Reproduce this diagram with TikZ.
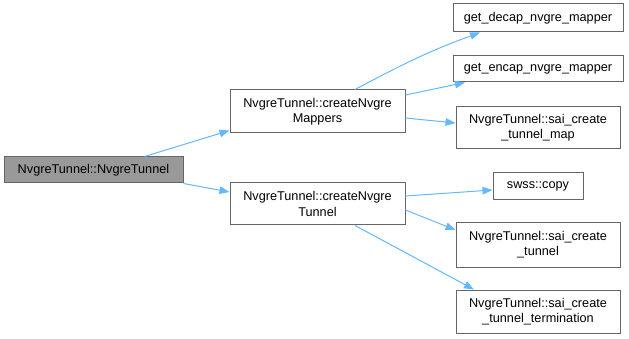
\documentclass[tikz,border=0pt]{standalone}
\usepackage{fontspec}
\setmainfont{Liberation Sans}
\usetikzlibrary{arrows.meta}
\definecolor{edgeblue}{RGB}{99,184,255}
\definecolor{boxgray}{RGB}{102,102,102}
\definecolor{rootfill}{RGB}{153,153,153}
\tikzset{
  box/.style={draw=boxgray,line width=1pt,fill=white,inner sep=0pt,align=center,
    font=\fontsize{12.7}{15.3}\selectfont},
  edge/.style={draw=edgeblue,line width=1pt,-{Triangle[length=10pt,width=7.5pt]}}
}

\begin{document}
\begin{tikzpicture}[x=1pt,y=1pt]
	\useasboundingbox (0,0) rectangle (629,-339);
	\node [box,fill=rootfill,minimum width=179pt,minimum height=26pt] (root) at (93.5,-170) {NvgreTunnel::NvgreTunnel};
	\node [box,minimum width=175pt,minimum height=43pt] (mappers) at (317.5,-111.5) {NvgreTunnel::createNvgre\\Mappers};
	\node [box,minimum width=175pt,minimum height=42pt] (tunnel) at (317.5,-204) {NvgreTunnel::createNvgre\\Tunnel};
	\node [box,minimum width=170pt,minimum height=28pt] (decap) at (538,-18) {get\_decap\_nvgre\_mapper};
	\node [box,minimum width=170pt,minimum height=26pt] (encap) at (538,-69) {get\_encap\_nvgre\_mapper};
	\node [box,minimum width=164pt,minimum height=42pt] (tunmap) at (538,-128) {NvgreTunnel::sai\_create\\\_tunnel\_map};
	\node [box,minimum width=90pt,minimum height=27pt] (copy) at (538,-186.5) {swss::copy};
	\node [box,minimum width=164pt,minimum height=44pt] (saitun) at (538,-245) {NvgreTunnel::sai\_create\\\_tunnel};
	\node [box,minimum width=164pt,minimum height=43pt] (term) at (538,-311.5) {NvgreTunnel::sai\_create\\\_tunnel\_termination};
	% calls out of the constructor
	\draw [edge] ([xshift=51pt]root.north) -- ([yshift=3pt]mappers.south west);
	\draw [edge] (root.south east) -- ([yshift=12pt]tunnel.west);
	% createNvgreMappers
	\draw [edge] ([xshift=37.5pt]mappers.north) to[out=28,in=200] ([xshift=-58pt]decap.south);
	\draw [edge] ([yshift=16.5pt]mappers.east) -- ([xshift=-73pt]encap.south);
	\draw [edge] ([yshift=-6.5pt]mappers.east) -- ([yshift=5pt]tunmap.west);
	% createNvgreTunnel
	\draw [edge] ([yshift=8pt]tunnel.east) -- ([yshift=-3.5pt]copy.west);
	\draw [edge] ([yshift=-6pt]tunnel.east) -- ([yshift=15pt]saitun.west);
	\draw [edge] ([xshift=37.5pt]tunnel.south) -- ([xshift=-64pt]term.north);
\end{tikzpicture}
\end{document}
